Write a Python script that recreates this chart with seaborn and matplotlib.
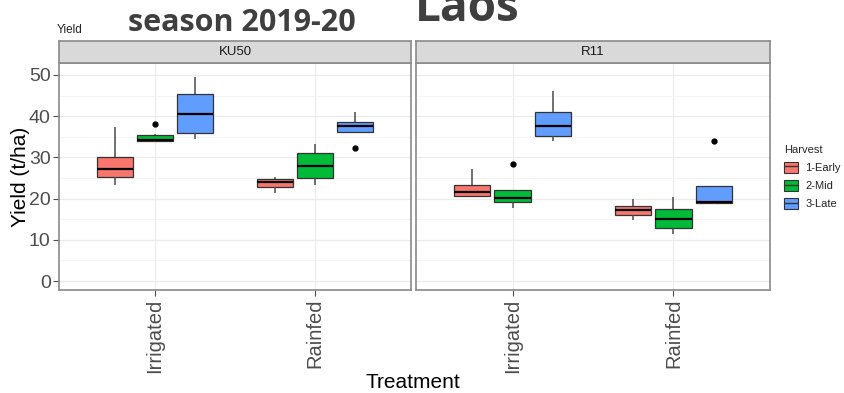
import numpy as np
import pandas as pd
import matplotlib
matplotlib.use("Agg")
import matplotlib.pyplot as plt
from matplotlib.patches import Patch
from matplotlib.lines import Line2D
from matplotlib.ticker import MultipleLocator
import seaborn as sns

# Category levels
varieties = ["KU50", "R11"]
treatments = ["Irrigated", "Rainfed"]
harvests = ["1-Early", "2-Mid", "3-Late"]
palette = ["#F8766D", "#00BA38", "#619CFF"]

# Box summaries (t/ha), ordered variety -> treatment -> harvest
box_variety = ["KU50"] * 6 + ["R11"] * 6
box_treatment = (["Irrigated"] * 3 + ["Rainfed"] * 3) * 2
box_harvest = harvests * 4
whisker_low = [23.4, 33.8, 34.4, 21.3, 23.2, 36.1, 20.6, 17.6, 34.0, 14.8, 11.5, 18.7]
quart_low   = [25.2, 33.9, 36.0, 22.8, 24.9, 36.1, 20.6, 19.1, 35.1, 16.1, 12.8, 19.0]
median      = [27.1, 34.3, 40.5, 24.1, 28.0, 37.6, 21.5, 20.1, 37.6, 17.2, 15.1, 19.2]
quart_high  = [30.2, 35.5, 45.4, 24.8, 31.1, 38.5, 23.3, 22.1, 40.9, 18.1, 17.4, 23.0]
whisker_high = [37.4, 35.6, 49.6, 25.2, 33.3, 40.9, 27.1, 22.1, 46.2, 19.9, 20.5, 23.0]
outlier = [np.nan, 38.2, np.nan, np.nan, np.nan, 32.2, np.nan, 28.4, np.nan, np.nan, np.nan, 33.9]


def plot_values(lo, a, m, b, hi, out):
    """Nine observations whose quartiles/whiskers reproduce the summary."""
    if np.isnan(out):
        return [lo, a, a, m, m, m, b, b, hi]
    if out > b:
        return [lo, a, a, m, m, m, b, hi, out]
    return [out, lo, a, m, m, m, b, b, hi]


rows = []
for i in range(len(box_variety)):
    for v in plot_values(whisker_low[i], quart_low[i], median[i],
                         quart_high[i], whisker_high[i], outlier[i]):
        rows.append((box_variety[i], box_treatment[i], box_harvest[i], v))
df = pd.DataFrame(rows, columns=["Variety", "Treatment", "Harvest", "Yield"])

sns.set_theme(style="white")
plt.rcParams["font.family"] = ["Liberation Sans", "DejaVu Sans"]

W, H = 845, 393
fig = plt.figure(figsize=(W / 100, H / 100), dpi=100)
fig.patch.set_facecolor("white")

panel_x = [(59, 411), (416, 770)]
panel_top, panel_bottom, strip_top = 63, 290, 41
frame_col = "#8a8a8a"
text_col = "#4d4d4d"

for k, variety in enumerate(varieties):
    x0, x1 = panel_x[k]
    ax = fig.add_axes([x0 / W, 1 - panel_bottom / H, (x1 - x0) / W,
                       (panel_bottom - panel_top) / H])
    sub = df[df["Variety"] == variety]
    sns.boxplot(data=sub, x="Treatment", y="Yield", hue="Harvest",
                order=treatments, hue_order=harvests, palette=palette,
                saturation=1, width=0.75, gap=0.1, linecolor="#333333",
                linewidth=0.9, fliersize=3.5, showcaps=False,
                whiskerprops=dict(color="#4a4a4a", linewidth=1.1),
                flierprops=dict(marker="o", markerfacecolor="black",
                                markeredgecolor="black"),
                medianprops=dict(color="black", linewidth=1.6),
                legend=False, ax=ax)
    ax.set_xlim(-0.6, 1.6)
    ax.set_ylim(-2.18, 52.9)
    ax.yaxis.set_major_locator(MultipleLocator(10))
    ax.yaxis.set_minor_locator(MultipleLocator(5))
    ax.grid(True, which="major", color="#ebebeb", linewidth=0.9)
    ax.grid(True, which="minor", axis="y", color="#f3f3f3", linewidth=0.6)
    ax.set_axisbelow(True)
    for s in ax.spines.values():
        s.set_visible(True)
        s.set_color(frame_col)
        s.set_linewidth(1.2)
    ax.set_xlabel("")
    ax.set_ylabel("")
    ax.tick_params(axis="x", which="major", length=4, width=0.8, color=text_col,
                   labelcolor=text_col, labelsize=14.5, labelrotation=90, pad=2,
                   bottom=True)
    ax.tick_params(axis="y", which="major", length=4, width=0.8, color=text_col,
                   labelcolor=text_col, labelsize=14, pad=2, left=(k == 0))
    ax.tick_params(axis="y", which="minor", length=0)
    if k > 0:
        ax.set_yticklabels([])
        ax.tick_params(axis="y", left=False)

    # facet strip
    sax = fig.add_axes([x0 / W, 1 - panel_top / H, (x1 - x0) / W,
                        (panel_top - strip_top) / H])
    sax.set_facecolor("#d9d9d9")
    sax.set_xticks([])
    sax.set_yticks([])
    for s in sax.spines.values():
        s.set_color(frame_col)
        s.set_linewidth(1.2)
    sax.text(0.5, 0.5, variety, ha="center", va="center", fontsize=9.5,
             color="#1a1a1a", transform=sax.transAxes)

# axis titles
fig.text(21 / W, 1 - 177 / H, "Yield (t/ha)", rotation=90, ha="center",
         va="center", fontsize=15, color="black")
fig.text(413 / W, 1 - 382 / H, "Treatment", ha="center", va="center",
         fontsize=15, color="black")

# headings
fig.text(57 / W, 1 - 30 / H, "Yield", ha="left", va="center", fontsize=8.5,
         color="#222222")
fig.text(128 / W, 1 - 31 / H, "season 2019-20", ha="left", va="baseline",
         fontsize=22, fontweight="bold", color="#3f3f3f",
         family=["Open Sans", "DejaVu Sans"])
fig.text(415 / W, 1 - 21 / H, "Laos", ha="left", va="baseline",
         fontsize=33, fontweight="bold", color="#3f3f3f",
         family=["Open Sans", "DejaVu Sans"])

# legend
handles = [(Patch(facecolor=c, edgecolor="#333333", linewidth=0.8),
            Line2D([], [], color="#333333", linewidth=1.0)) for c in palette]
leg = fig.legend(handles, harvests, title="Harvest", loc="upper left",
                 bbox_to_anchor=(774 / W, 1 - 135 / H), frameon=False,
                 fontsize=8, title_fontsize=8, handlelength=1.3,
                 handleheight=1.2, labelspacing=0.6, handletextpad=0.6)
leg._legend_box.align = "left"
for t in leg.get_texts():
    t.set_color("#222222")

fig.savefig("out.png", dpi=100, facecolor="white")
